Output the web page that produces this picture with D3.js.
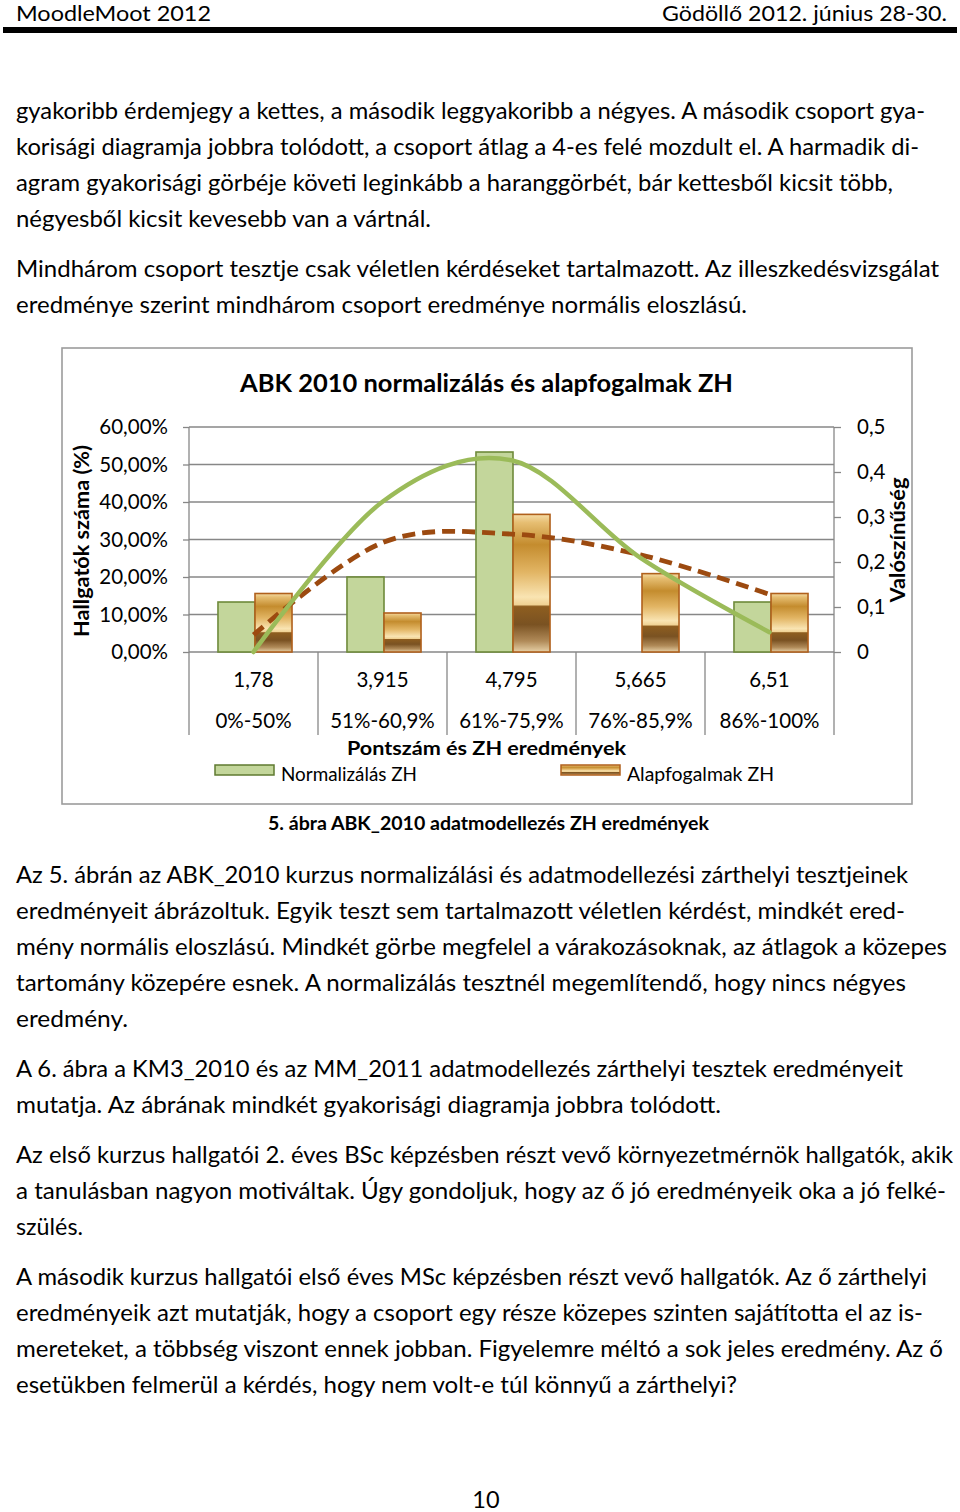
<!DOCTYPE html>
<html><head><meta charset="utf-8">
<script src="https://cdn.jsdelivr.net/npm/d3@7"></script>
<style>
html,body{margin:0;padding:0;background:#fff;}
svg{display:block;font-family:Lato,"Open Sans",sans-serif;}
</style></head><body>
<svg id="page" width="960" height="1512"></svg>
<script>
// ---------- chart data ----------
const categories = ["1,78","3,915","4,795","5,665","6,51"];
const rangeLabels = ["0%-50%","51%-60,9%","61%-75,9%","76%-85,9%","86%-100%"];
const seriesNames = ["Normalizálás ZH","Alapfogalmak ZH"];
const normalizalasBars = [0.1333,0.20,0.5333,0,0.1333];
const alapfogalmakBars = [0.156,0.104,0.367,0.209,0.156];
const normalizalasCurve = [0.0,0.334,0.426,0.209,0.044];
const alapfogalmakCurve = [0.038,0.243,0.262,0.216,0.128];
const leftTicks = [0,0.1,0.2,0.3,0.4,0.5,0.6];
const rightTicks = [0,0.1,0.2,0.3,0.4,0.5];
const chartTitle = "ABK 2010 normalizálás és alapfogalmak ZH";
const xTitle = "Pontszám és ZH eredmények";
const yLeftTitle = "Hallgatók száma (%)";
const yRightTitle = "Valószínűség";
const caption = "5. ábra ABK_2010 adatmodellezés ZH eredmények";

// ---------- page text ----------
const headerLeft = "MoodleMoot 2012";
const headerRight = "Gödöllő 2012. június 28-30.";
const pageNumber = "10";
const paragraphs = [
  {y:119, lines:[
    ["gyakoribb érdemjegy a kettes, a második leggyakoribb a négyes. A második csoport gya-",925],
    ["korisági diagramja jobbra tolódott, a csoport átlag a 4-es felé mozdult el. A harmadik di-",919],
    ["agram gyakorisági görbéje követi leginkább a haranggörbét, bár kettesből kicsit több,",893],
    ["négyesből kicsit kevesebb van a vártnál.",431]]},
  {y:277, lines:[
    ["Mindhárom csoport tesztje csak véletlen kérdéseket tartalmazott. Az illeszkedésvizsgálat",939],
    ["eredménye szerint mindhárom csoport eredménye normális eloszlású.",747]]},
  {y:883, lines:[
    ["Az 5. ábrán az ABK_2010 kurzus normalizálási és adatmodellezési zárthelyi tesztjeinek",908],
    ["eredményeit ábrázoltuk. Egyik teszt sem tartalmazott véletlen kérdést, mindkét ered-",905],
    ["mény normális eloszlású. Mindkét görbe megfelel a várakozásoknak, az átlagok a közepes",947],
    ["tartomány közepére esnek. A normalizálás tesztnél megemlítendő, hogy nincs négyes",906],
    ["eredmény.",128]]},
  {y:1077, lines:[
    ["A 6. ábra a KM3_2010 és az MM_2011 adatmodellezés zárthelyi tesztek eredményeit",903],
    ["mutatja. Az ábrának mindkét gyakorisági diagramja jobbra tolódott.",721]]},
  {y:1163, lines:[
    ["Az első kurzus hallgatói 2. éves BSc képzésben részt vevő környezetmérnök hallgatók, akik",953],
    ["a tanulásban nagyon motiváltak. Úgy gondoljuk, hogy az ő jó eredményeik oka a jó felké-",946],
    ["szülés.",83]]},
  {y:1285, lines:[
    ["A második kurzus hallgatói első éves MSc képzésben részt vevő hallgatók. Az ő zárthelyi",927],
    ["eredményeik azt mutatják, hogy a csoport egy része közepes szinten sajátította el az is-",923],
    ["mereteket, a többség viszont ennek jobban. Figyelemre méltó a sok jeles eredmény. Az ő",943],
    ["esetükben felmerül a kérdés, hogy nem volt-e túl könnyű a zárthelyi?",737]]}
];

const svg = d3.select("#page");
svg.append("rect").attr("width",960).attr("height",1512).attr("fill","#fff");

// header
svg.append("text").attr("x",16).attr("y",21).attr("font-size",21.5)
  .attr("textLength",195).attr("lengthAdjust","spacingAndGlyphs").text(headerLeft);
svg.append("text").attr("x",947).attr("y",21).attr("font-size",21.5).attr("text-anchor","end")
  .attr("textLength",285).attr("lengthAdjust","spacingAndGlyphs").text(headerRight);
svg.append("rect").attr("x",3).attr("y",27).attr("width",954).attr("height",6).attr("fill","#000");

// body paragraphs
const bodyLeft = 16, lineH = 36;
paragraphs.forEach(p => {
  p.lines.forEach((l,i) => {
    svg.append("text").attr("x",bodyLeft).attr("y",p.y + i*lineH)
      .attr("font-size",23.5).attr("fill","#000")
      .attr("textLength", l[1]-bodyLeft).attr("lengthAdjust","spacingAndGlyphs")
      .text(l[0]);
  });
});
svg.append("text").attr("x",486).attr("y",1508).attr("font-size",23.5)
  .attr("text-anchor","middle").text(pageNumber);

// ---------- chart ----------
const defs = svg.append("defs");
const grad = defs.append("linearGradient").attr("id","gold")
  .attr("x1",0).attr("y1",0).attr("x2",0).attr("y2",1);
[[0,"#f5dca6"],[0.06,"#e6be72"],[0.22,"#c48c2e"],[0.42,"#e2b564"],[0.6,"#f9e4b2"],
 [0.655,"#f0d294"],[0.67,"#8e5e20"],[0.8,"#7a5222"],[0.92,"#b08a58"],[1,"#e6d0a6"]]
 .forEach(s => grad.append("stop").attr("offset",s[0]).attr("stop-color",s[1]));

// chart frame
svg.append("rect").attr("x",62).attr("y",348).attr("width",850).attr("height",456)
  .attr("fill","#fff").attr("stroke","#9c9c9c").attr("stroke-width",1.6);

const plotL = 189, plotR = 834, plotB = 652, plotT = 427;
const yLeft = d3.scaleLinear().domain([0,0.6]).range([plotB,plotT]);
const yRight = d3.scaleLinear().domain([0,0.5]).range([plotB,plotT]);
const x0 = d3.scaleBand().domain(categories).range([plotL,plotR]).padding(0);
const groupW = x0.bandwidth()*0.574;
const x1 = d3.scaleBand().domain(seriesNames).range([0,groupW]).padding(0);
const groupOff = (x0.bandwidth()-groupW)/2 + 1.5;
const locale = d3.formatLocale({decimal:",",thousands:" ",grouping:[3],currency:["","€"]});
const fmtPct = locale.format(".2%");
const fmtRight = locale.format(".1~f");
const gridColor = "#878787";

// gridlines
svg.append("g").selectAll("line").data(leftTicks).join("line")
  .attr("x1",plotL).attr("x2",plotR)
  .attr("y1",d=>yLeft(d)).attr("y2",d=>yLeft(d))
  .attr("stroke",gridColor).attr("stroke-width",1.3);

// category separators (below the axis)
const edges = categories.map(c=>x0(c)).concat([plotR]);
svg.append("g").selectAll("line").data(edges).join("line")
  .attr("x1",d=>d).attr("x2",d=>d).attr("y2",735)
  .attr("y1",(d,i)=> (i===0||i===edges.length-1) ? plotT : plotB)
  .attr("stroke",gridColor).attr("stroke-width",1.3);

// left axis
const axL = svg.append("g").attr("transform",`translate(${plotL},0)`)
  .call(d3.axisLeft(yLeft).tickValues(leftTicks).tickFormat(fmtPct).tickSize(6).tickSizeOuter(0).tickPadding(15));
axL.select(".domain").remove();
axL.selectAll(".tick line").attr("stroke",gridColor).attr("stroke-width",1.3);
axL.selectAll("text").attr("font-size",20.5).attr("font-family","Lato").attr("fill","#000");

// right axis
const axR = svg.append("g").attr("transform",`translate(${plotR},0)`)
  .call(d3.axisRight(yRight).tickValues(rightTicks).tickFormat(fmtRight).tickSize(7).tickSizeOuter(0).tickPadding(16));
axR.select(".domain").remove();
axR.selectAll(".tick line").attr("stroke",gridColor).attr("stroke-width",1.3);
axR.selectAll("text").attr("font-size",20.5).attr("font-family","Lato").attr("fill","#000");

// bars
const barData = [];
categories.forEach((c,i)=>{
  barData.push({c, s:seriesNames[0], v:normalizalasBars[i]});
  barData.push({c, s:seriesNames[1], v:alapfogalmakBars[i]});
});
svg.append("g").selectAll("rect").data(barData.filter(d=>d.v>0)).join("rect")
  .attr("x",d=>x0(d.c)+groupOff+x1(d.s))
  .attr("width",x1.bandwidth())
  .attr("y",d=>yLeft(d.v))
  .attr("height",d=>yLeft(0)-yLeft(d.v))
  .attr("fill",d=>d.s===seriesNames[0] ? "#c3d69b" : "url(#gold)")
  .attr("stroke",d=>d.s===seriesNames[0] ? "#6e8a3a" : "#b0601c")
  .attr("stroke-width",1.6);

// curves
const cx = c => x0(c)+x0.bandwidth()/2;
const line = d3.line().x(d=>cx(d.c)).y(d=>yRight(d.v)).curve(d3.curveCardinal.tension(0));
svg.append("path")
  .attr("d",line(categories.map((c,i)=>({c,v:alapfogalmakCurve[i]}))))
  .attr("fill","none").attr("stroke","#9c4a10").attr("stroke-width",4.8)
  .attr("stroke-dasharray","13,7");
svg.append("path")
  .attr("d",line(categories.map((c,i)=>({c,v:normalizalasCurve[i]}))))
  .attr("fill","none").attr("stroke","#9bbb59").attr("stroke-width",4.5)
  .attr("stroke-linecap","round");

// category labels
svg.append("g").selectAll("text").data(categories).join("text")
  .attr("x",d=>cx(d)).attr("y",687).attr("text-anchor","middle")
  .attr("font-size",20.5).text(d=>d);
svg.append("g").selectAll("text").data(rangeLabels).join("text")
  .attr("x",(d,i)=>cx(categories[i])).attr("y",728).attr("text-anchor","middle")
  .attr("font-size",20.5).text(d=>d);

// titles
svg.append("text").attr("x",486.5).attr("y",392).attr("text-anchor","middle")
  .attr("font-size",24).attr("font-weight","bold")
  .attr("textLength",493).attr("lengthAdjust","spacingAndGlyphs").text(chartTitle);
svg.append("text").attr("x",486.5).attr("y",755).attr("text-anchor","middle")
  .attr("font-size",19.5).attr("font-weight","bold")
  .attr("textLength",279).attr("lengthAdjust","spacingAndGlyphs").text(xTitle);
svg.append("text").attr("transform","translate(89,541) rotate(-90)").attr("text-anchor","middle")
  .attr("font-size",20).attr("font-weight","bold")
  .attr("textLength",192).attr("lengthAdjust","spacingAndGlyphs").text(yLeftTitle);
svg.append("text").attr("transform","translate(905,540) rotate(-90)").attr("text-anchor","middle")
  .attr("font-size",20).attr("font-weight","bold")
  .attr("textLength",125).attr("lengthAdjust","spacingAndGlyphs").text(yRightTitle);

// legend
const legendItems = [
  {name:seriesNames[0], x:215, fill:"#c3d69b", stroke:"#5f7a30", tl:136},
  {name:seriesNames[1], x:561, fill:"url(#gold)", stroke:"#b0601c", tl:147}
];
const lg = svg.append("g").selectAll("g").data(legendItems).join("g");
lg.append("rect").attr("x",d=>d.x).attr("y",765).attr("width",59).attr("height",10)
  .attr("fill",d=>d.fill).attr("stroke",d=>d.stroke).attr("stroke-width",1.5);
lg.append("text").attr("x",d=>d.x+66).attr("y",781).attr("font-size",18.5)
  .attr("textLength",d=>d.tl).attr("lengthAdjust","spacingAndGlyphs").text(d=>d.name);

// caption
svg.append("text").attr("x",488.5).attr("y",830).attr("text-anchor","middle")
  .attr("font-size",18.5).attr("font-weight","bold")
  .attr("textLength",441).attr("lengthAdjust","spacingAndGlyphs").text(caption);
</script>
</body></html>
